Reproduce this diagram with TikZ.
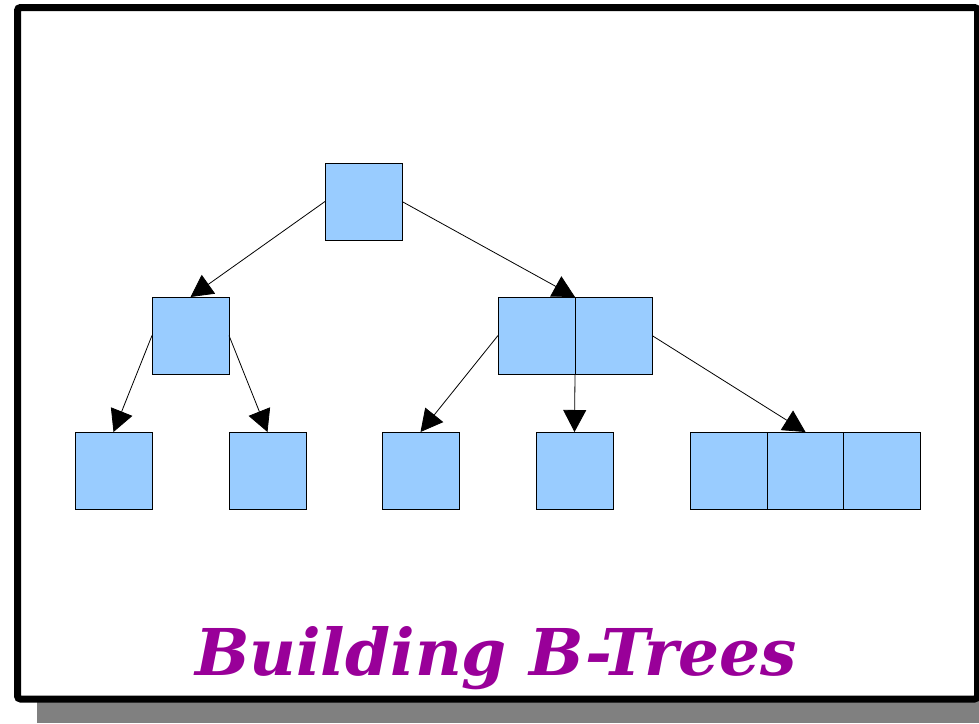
\documentclass[tikz,border=0pt]{standalone}
\usepackage{fontspec}
\newfontfamily\titlefont{DejaVu Serif}
\usetikzlibrary{arrows.meta}
\definecolor{keyblue}{HTML}{99CCFF}
\definecolor{titlepurple}{HTML}{990099}
\definecolor{shadowgray}{HTML}{808080}
\begin{document}
\begin{tikzpicture}[x=1pt,y=-1pt,
  keybox/.style={draw=black,fill=keyblue,line width=0.9pt,minimum width=77pt,minimum height=77pt,inner sep=0pt,outer sep=0pt,anchor=north west},
  link/.style={line width=0.8pt,-{Triangle[width=23pt,length=22pt]}}]
\useasboundingbox (0,0) rectangle (979,723);
\fill[shadowgray] (37,28) rectangle (1000,723);
\draw[line width=7pt,rounded corners=3pt,fill=white] (17.5,7.5) rectangle (977.5,699);
% root
\node[keybox] (r) at (325,163) {};
% level 2
\node[keybox] (a) at (152,297) {};
\node[keybox] (b1) at (498,297) {};
\node[keybox] (b2) at (575,297) {};
% level 3
\node[keybox] (c1) at (75,432) {};
\node[keybox] (c2) at (229,432) {};
\node[keybox] (c3) at (382,432) {};
\node[keybox] (c4) at (536,432) {};
\node[keybox] (c5) at (690,432) {};
\node[keybox] (c6) at (767,432) {};
\node[keybox] (c7) at (843,432) {};
% connectors
\draw[link] (r.west) -- (a.north);
\draw[link] (r.east) -- (b2.north west);
\draw[link] (a.west) -- (c1.north);
\draw[link] (a.east) -- (c2.north);
\draw[link] (b1.west) -- (c3.north);
\draw[link] (b2.south west) -- (c4.north);
\draw[link] (b2.east) -- (c6.north);
% title
\node[text=titlepurple,font=\titlefont\bfseries\itshape\fontsize{64.5}{70}\selectfont,anchor=base] (title) at (496,675) {Building B-Trees};
\end{tikzpicture}
\end{document}
